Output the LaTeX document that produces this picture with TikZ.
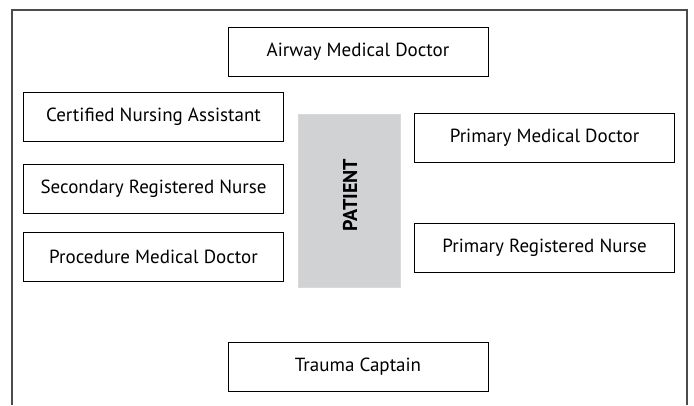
\documentclass[tikz,border=0pt]{standalone}
\usepackage{fontspec}
\setmainfont{PT Sans}
\usetikzlibrary{positioning}

\definecolor{patientgray}{HTML}{D1D2D4}

\tikzset{
  role/.style={draw=black, line width=0.8pt, minimum width=260pt, minimum height=49pt, inner sep=0pt, font=\fontsize{19}{22}\selectfont},
  patientbox/.style={fill=patientgray, draw=black!15, line width=0.6pt, minimum width=102pt, minimum height=173pt, inner sep=0pt},
}

\begin{document}
\begin{tikzpicture}[x=1pt, y=-1pt]
            \useasboundingbox (0,0) rectangle (694,405);

            % Cadre ouvert en bas
            \draw[black!70, line width=1.1pt] (12,405) -- (12,10) -- (687,10) -- (687,405);

            % Haut
            \node[role] (airway) at (358,52) {Airway Medical Doctor};

            % Colonne gauche
            \node[role] (cna) at (153.5,116.5) {Certified Nursing Assistant};
            \node[role] (secrn) at (153.5,188.5) {Secondary Registered Nurse};
            \node[role] (procmd) at (153.5,257) {Procedure Medical Doctor};

            % Patient
            \node[patientbox] (patient) at (349,200.5) {};
            \node[rotate=90, font=\fontsize{20}{23}\selectfont\bfseries] (patientlbl) at (350,195) {PATIENT};

            % Colonne droite
            \node[role] (primmd) at (544.5,137.5) {Primary Medical Doctor};
            \node[role] (primrn) at (544.5,248) {Primary Registered Nurse};

            % Bas
            \node[role] (captain) at (358,367) {Trauma Captain};
        \end{tikzpicture}
\end{document}
